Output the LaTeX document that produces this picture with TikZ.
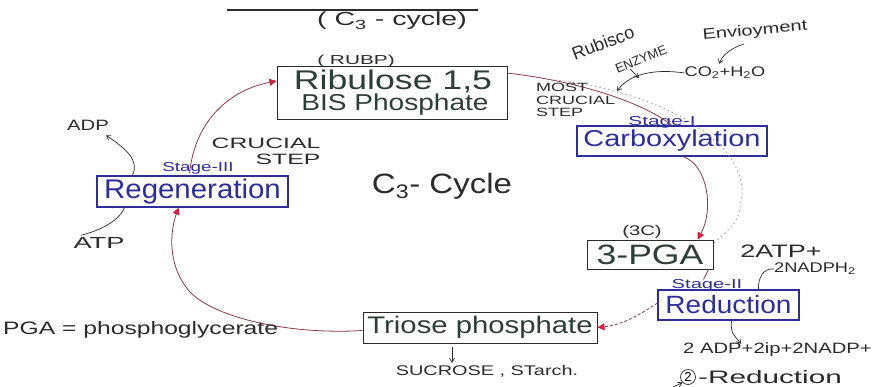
\documentclass[tikz,border=0pt]{standalone}
\usepackage{fontspec}
\usepackage{graphicx}
\setmainfont{Liberation Sans}
\usetikzlibrary{arrows.meta,calc}
\definecolor{inkblue}{HTML}{2E2E9A}
\definecolor{inkred}{HTML}{8A3A48}
\definecolor{tipred}{HTML}{D2203E}
\definecolor{inkdark}{HTML}{2B2B2B}
\definecolor{inkgreen}{HTML}{2D3F35}
\definecolor{pencil}{HTML}{9A9A9A}
% widen a handwritten-looking word horizontally
\newcommand\hwide[2]{\scalebox{#1}[1]{#2}}
\tikzset{
  fs/.style={font=\fontsize{#1}{#1}\selectfont},
  plainbox/.style={draw=inkdark, line width=1pt, inner sep=0pt, text=inkgreen},
  stagebox/.style={draw=inkblue, line width=1.1pt, inner sep=0pt, text=inkblue},
  stagelbl/.style={text=inkblue, inner sep=0pt, fs=13},
  lbl/.style={text=inkdark, inner sep=0pt},
  cyc/.style={draw=inkred, line width=0.8pt},
  redtip/.style={-{Triangle[color=tipred,length=7pt,width=7pt]}},
  blacktip/.style={-{Straight Barb[length=4pt,width=5pt]}},
  note/.style={draw=inkdark, line width=0.7pt},
  pencilline/.style={draw=pencil, line width=0.8pt, dash pattern=on 1.5pt off 3pt}
}
\begin{document}
\begin{tikzpicture}[x=1pt,y=-1pt]
\fill[white] (0,0) rectangle (877,387);
\useasboundingbox (0,0) rectangle (877,387);

% title with its rule
\coordinate (ruleL) at (227,10);
\coordinate (ruleR) at (478,10);
\draw[inkdark, line width=1.6pt] (ruleL) -- (ruleR);
\node[lbl, fs=19] (title) at (392,21) {\hwide{1.5}{( C\textsubscript{3} - cycle)}};

% the four compounds of the cycle
\node[plainbox, minimum width=230pt, minimum height=53pt] (rubp) at (392,93.5) {};
\node[lbl, text=inkgreen, fs=27] (rubp1) at (393,81) {\hwide{1.32}{Ribulose 1,5}};
\node[lbl, text=inkgreen, fs=23] (rubp2) at (395,105) {\hwide{1.22}{BIS Phosphate}};
\node[plainbox, minimum width=126pt, minimum height=29pt, fs=28] (pga) at (650,254.5) {\hwide{1.27}{3-PGA}};
\node[plainbox, minimum width=234pt, minimum height=31pt, fs=24] (triose) at (480,327.5) {\hwide{1.22}{Triose phosphate}};

% the three stages
\node[stagebox, minimum width=190pt, minimum height=30pt, fs=23] (carb) at (672,141) {\hwide{1.26}{Carboxylation}};
\node[stagebox, minimum width=141pt, minimum height=30pt, fs=25] (red) at (728.5,305) {\hwide{1.12}{Reduction}};
\node[stagebox, minimum width=191pt, minimum height=31pt, fs=27] (regen) at (192.5,191.5) {\hwide{1.09}{Regeneration}};

% stage labels and small captions
\node[stagelbl] (st1) at (662,122) {\hwide{1.6}{Stage-I}};
\node[stagelbl] (st2) at (707,285) {\hwide{1.55}{Stage-II}};
\node[stagelbl] (st3) at (198,168) {\hwide{1.45}{Stage-III}};
\node[lbl, fs=13] (rubpl) at (356,61) {\hwide{1.6}{( RUBP)}};
\node[lbl, fs=14] (threec) at (642,232) {\hwide{1.45}{(3C)}};

% cycle connectors
\draw[cyc] (rubp.10) .. controls (570,80) and (640,100) .. (carb.north);
\draw[cyc, redtip] ($(carb.south)+(11,0)$) .. controls (708,165) and (714,210) .. ($(pga.north east)+(-16,0)$);
\draw[cyc] ($(pga.south east)+(-5,0)$) -- ($(red.north)+(-25,-10)$);
\draw[cyc, densely dashed, redtip] ($(red.west)+(0,-2)$) .. controls (635,318) and (620,325) .. (triose.east);
\coordinate (bend) at (190,292);
\draw[cyc, redtip] ($(triose.west)+(0,3)$) .. controls (290,335) and (215,318) .. (bend)
  .. controls (167,266) and (170,232) .. ($(regen.south)+(-14,0)$);
\draw[cyc, redtip] ($(regen.north)+(-3,-2)$) .. controls (195,120) and (230,90) .. ($(rubp.west)+(0,-12.5)$);

% faint pencil guide beside the carboxylation step
\coordinate (pg1) at (555,80);
\coordinate (pg2) at (742,195);
\draw[pencilline] (pg1) .. controls (660,92) and (745,140) .. (pg2)
  .. controls (738,222) .. ($(pga.north east)+(0,4)$);

% centre label
\node[lbl, fs=28] (center) at (442,186) {\hwide{1.18}{C\textsubscript{3}- Cycle}};

% carboxylation side notes
\node[lbl, fs=12, align=left, anchor=west] (most) at (536,100)
  {\hwide{1.5}{MOST}\\[0.5pt]\hwide{1.5}{CRUCIAL}\\[0.5pt]\hwide{1.5}{STEP}};
\node[lbl, fs=18, rotate=21] (rubisco) at (603,43) {Rubisco};
\node[lbl, fs=13, rotate=22] (enzyme) at (641,59) {ENZYME};
\node[lbl, fs=15, rotate=5] (env) at (755,31) {\hwide{1.34}{Envioyment}};
\node[lbl, fs=14] (co2) at (725,73) {\hwide{1.3}{CO\textsubscript{2}+H\textsubscript{2}O}};
\coordinate (envtail) at (744,44);
\coordinate (mosttip) at (617,91);
\draw[note, blacktip] (envtail) .. controls (735,47) and (724,52) .. ($(co2.north)+(-6,-3)$);
\draw[note, blacktip] (co2.west) .. controls (650,68) and (628,76) .. (mosttip);
\coordinate (rubtail) at (630,69);
\draw[note, blacktip] (rubtail) -- ($(mosttip)+(22,-13)$);

% reduction side notes
\node[lbl, fs=18] (atp2) at (781,251) {\hwide{1.5}{2ATP+}};
\node[lbl, fs=14] (nadph) at (815,269) {\hwide{1.3}{2NADPH\textsubscript{2}}};
\node[lbl, fs=15, anchor=west] (prod) at (683,350) {\hwide{1.35}{2 ADP+2ip+2NADP+}};
\node[draw=inkdark, circle, line width=0.7pt, inner sep=1.2pt, fs=13] (two) at (688,377) {2};
\node[lbl, fs=18, anchor=west] (redn) at (698,377) {\hwide{1.65}{-Reduction}};
\coordinate (twotail) at (671,388);
\draw[note, blacktip] (twotail) -- (two.south west);
\draw[note] ($(red.north)+(30,0)$) .. controls (758,278) and (763,268) .. (nadph.west);
\draw[note, blacktip] ($(red.south)+(3,0)$) .. controls (730,334) and (735,336) .. ($(prod.north west)+(58,1)$);

% regeneration side notes
\node[lbl, fs=15] (adp) at (88,125) {\hwide{1.35}{ADP}};
\node[lbl, fs=16] (atp) at (99,243) {\hwide{1.7}{ATP}};
\node[lbl, fs=15, align=right] (crucial) at (266,151) {\hwide{1.65}{CRUCIAL}\\[1pt]\hwide{1.65}{STEP}};
\draw[note, blacktip] ($(regen.north west)+(36,0)$) .. controls (140,160) and (125,148) .. ($(adp.south)+(18,5)$);
\draw[note] ($(atp.north)+(-18,-2)$) .. controls (110,228) and (122,215) .. ($(regen.south west)+(28,0)$);

% products of triose phosphate
\node[lbl, fs=14] (sugar) at (487,371) {\hwide{1.42}{SUCROSE , STarch.}};
\draw[note, blacktip] ($(triose.south)+(-28,3)$) -- ($(sugar.north)+(-35,-2)$);

% abbreviation key
\node[lbl, fs=18, anchor=west] (key) at (3,330) {\hwide{1.37}{PGA = phosphoglycerate}};
\end{tikzpicture}
\end{document}
